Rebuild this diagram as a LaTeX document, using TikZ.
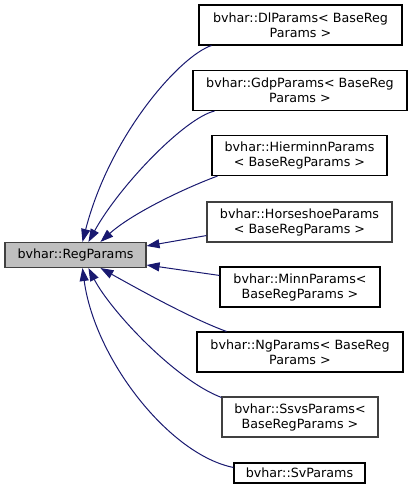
\documentclass[tikz,border=0pt]{standalone}
\usepackage{fontspec}
\newfontfamily\dejavu{DejaVu Sans}
\usetikzlibrary{arrows.meta,calc}
\definecolor{edgeblue}{HTML}{191970}
\definecolor{regfill}{HTML}{BFBFBF}
\definecolor{darkborder}{HTML}{404040}
\tikzset{
  cls/.style={draw=black, line width=1.1pt, inner sep=0pt, align=center,
    font=\dejavu\fontsize{12.7}{15}\selectfont, minimum height=40pt},
  clsgray/.style={cls, draw=darkborder},
  edge/.style={draw=edgeblue, line width=1pt, -{Triangle[length=13pt,width=9pt]}},
}
\begin{document}
\begin{tikzpicture}[x=1pt,y=-1pt]
\useasboundingbox (0,0) rectangle (412,495);
\node[cls, draw=darkborder, fill=regfill, minimum width=141pt, minimum height=25pt] (reg) at (75.5,255) {bvhar::RegParams};
\node[cls, minimum width=203pt] (dl) at (300.5,25) {bvhar::DlParams< BaseReg\\Params >};
\node[cls, minimum width=214pt] (gdp) at (300,90.5) {bvhar::GdpParams< BaseReg\\Params >};
\node[cls, minimum width=175pt] (hier) at (299.5,155.5) {bvhar::HierminnParams\\< BaseRegParams >};
\node[clsgray, minimum width=185pt] (horse) at (299.5,222) {bvhar::HorseshoeParams\\< BaseRegParams >};
\node[cls, minimum width=160pt] (minn) at (300,287) {bvhar::MinnParams<\\BaseRegParams >};
\node[cls, minimum width=206pt] (ng) at (300,352) {bvhar::NgParams< BaseReg\\Params >};
\node[clsgray, minimum width=156pt] (ssvs) at (300,417) {bvhar::SsvsParams<\\BaseRegParams >};
\node[cls, minimum width=131pt, minimum height=20pt] (sv) at (299.5,473) {bvhar::SvParams};

\draw[edge] ([xshift=13pt]dl.south west) .. controls (180,56) and (110,135) .. ([xshift=78pt]reg.north west);
\draw[edge] ([xshift=22pt]gdp.south west) .. controls (185,118) and (120,185) .. ([xshift=84pt]reg.north west);
\draw[edge] ([xshift=6pt]hier.south west) .. controls (180,190) and (130,215) .. ([xshift=96pt]reg.north west);
\draw[edge] ([yshift=7pt]horse.south west) -- ([yshift=9pt]reg.east);
\draw[edge] ([yshift=-9pt]minn.north west) -- ([yshift=-10pt]reg.east);
\draw[edge] ([xshift=30pt]ng.north west) .. controls (190,318) and (140,290) .. ([xshift=96pt]reg.south west);
\draw[edge] ([yshift=-1pt]ssvs.north west) .. controls (175,380) and (110,310) .. ([xshift=84pt]reg.south west);
\draw[edge] ([yshift=-5pt]sv.north west) .. controls (170,455) and (95,360) .. ([xshift=78pt]reg.south west);
\end{tikzpicture}
\end{document}
